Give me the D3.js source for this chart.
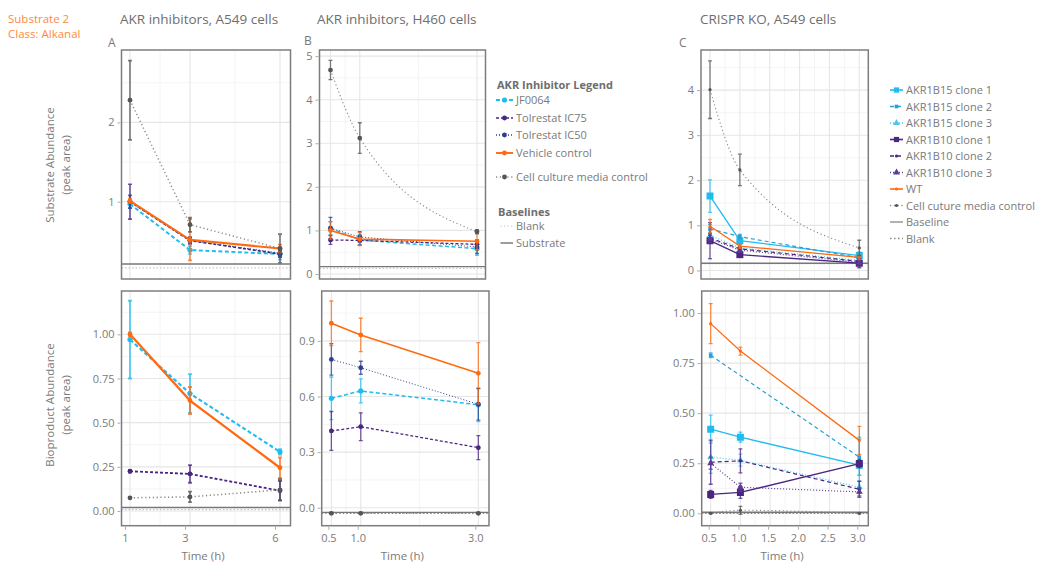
<!DOCTYPE html>
<html>
<head>
<meta charset="utf-8">
<title>Substrate 2 - Alkanal</title>
<script src="https://cdn.jsdelivr.net/npm/d3@7"></script>
<style>
  body { margin: 0; background: #fff; }
  svg text { font-family: "Open Sans", "Lato", sans-serif; }
</style>
</head>
<body>
<svg id="chart" width="1046" height="565"></svg>
<script>

// ---- data -------------------------------------------------------------
var timesA = [1, 3, 6],
    timesBC = [0.5, 1, 3];

var inhibitors = ["JF0064", "Tolrestat IC75", "Tolrestat IC50", "Vehicle control", "Cell culture media control"];
var clones = ["AKR1B15 clone 1", "AKR1B15 clone 2", "AKR1B15 clone 3", "AKR1B10 clone 1",
              "AKR1B10 clone 2", "AKR1B10 clone 3", "WT", "Cell cuture media control"];

// A: A549, inhibitors (rows follow `inhibitors`)
var aSubMean = [[0.97, 0.39, 0.34], [1.00, 0.51, 0.34], [1.00, 0.51, 0.35], [1.01, 0.52, 0.41], [2.28, 0.71, 0.41]];
var aSubSd   = [[0.05, 0.05, 0.07], [0.22, 0.04, 0.04], [0.08, 0.04, 0.04], [0.03, 0.26, 0.05], [0.50, 0.09, 0.18]];
var aProdMean = [[0.97, 0.665, 0.335], [0.225, 0.21, 0.115], [null, null, null], [1.00, 0.625, 0.245], [0.075, 0.08, 0.12]];
var aProdSd   = [[0.22, 0.11, 0.015], [0.008, 0.05, 0.055], [0, 0, 0], [0.01, 0.077, 0.058], [0.005, 0.03, 0.06]];

// B: H460, inhibitors
var bSubMean = [[1.05, 0.78, 0.58], [0.78, 0.77, 0.68], [1.05, 0.85, 0.62], [1.00, 0.80, 0.75], [4.68, 3.12, 0.97]];
var bSubSd   = [[0.15, 0.12, 0.15], [0.10, 0.10, 0.10], [0.25, 0.12, 0.15], [0.20, 0.15, 0.20], [0.22, 0.35, 0.05]];
var bProdMean = [[0.59, 0.63, 0.555], [0.414, 0.437, 0.324], [0.80, 0.755, 0.558], [0.995, 0.932, 0.725], [-0.03, -0.03, -0.03]];
var bProdSd   = [[0.115, 0.065, 0.09], [0.105, 0.075, 0.065], [0.085, 0.035, 0.085], [0.12, 0.09, 0.165], [0.005, 0.005, 0.005]];

// C: CRISPR KO, A549 (rows follow `clones`)
var cSubMean = [[1.65, 0.66, 0.33], [0.92, 0.75, 0.28], [0.78, 0.50, 0.22], [0.66, 0.35, 0.16],
                [0.72, 0.48, 0.20], [0.70, 0.45, 0.18], [0.98, 0.54, 0.29], [4.01, 2.23, 0.50]];
var cSubSd   = [[0.36, 0.08, 0.08], [0.10, 0.05, 0.05], [0.10, 0.05, 0.05], [0.40, 0.05, 0.10],
                [0.10, 0.05, 0.05], [0.08, 0.05, 0.05], [0.15, 0.05, 0.05], [0.64, 0.35, 0.17]];
var cProdMean = [[0.42, 0.38, 0.24], [0.789, null, 0.28], [0.28, 0.265, 0.13], [0.094, 0.104, 0.248],
                 [0.255, 0.262, 0.12], [0.25, 0.13, 0.107], [0.947, 0.81, 0.364], [0.0, 0.015, 0.0]];
var cProdSd   = [[0.07, 0.025, 0.14], [0.012, 0, 0.09], [0.08, 0.03, 0.03], [0.02, 0.03, 0.02],
                 [0.11, 0.06, 0.04], [0.03, 0.02, 0.02], [0.10, 0.02, 0.07], [0.003, 0.02, 0.003]];

// baselines per panel A, B, C
var substrateBaseline = [0.215, 0.17, 0.16],
    substrateBlank    = [0.165, 0.13, 0.15],
    productBaseline   = [0.02, -0.025, 0.005],
    productBlank      = [0.008, -0.03, 0.0];

// axis ticks
var ticksSubA = [1, 2], ticksSubB = [0, 1, 2, 3, 4, 5], ticksSubC = [0, 1, 2, 3, 4];
var ticksProdA = [0, 0.25, 0.5, 0.75, 1], ticksProdB = [0, 0.3, 0.6, 0.9], ticksProdC = [0, 0.25, 0.5, 0.75, 1];
var ticksTimeA = [1, 3, 6], ticksTimeB = [0.5, 1, 3], ticksTimeC = [0.5, 1, 1.5, 2, 2.5, 3];

// ---- styles ----------------------------------------------------------
var cyan = "#1fbcef", cyan2 = "#2a9fd3", cyan3 = "#4ac6f1",
    purple = "#4a2680", purple3 = "#5d3b95", navy = "#2e3f8f",
    orange = "#ff6a10", grayPt = "#555", grayLn = "#888", txt = "#7a7a7a";
var font = "'Open Sans', Lato, sans-serif";

var inhStyle = [
  { color: cyan,   dash: "4,2.5", w: 1.5, shape: "circle", r: 2.6 },
  { color: purple, dash: "3,2",   w: 1.3, shape: "circle", r: 2.4 },
  { color: navy,   dash: "1,2",   w: 1.0, shape: "circle", r: 2.4 },
  { color: orange, dash: null,    w: 1.6, shape: "circle", r: 2.4 },
  { color: grayPt, line: grayLn, dash: "1.2,2.6", w: 1.1, shape: "circle", r: 2.4 }
];
var cloneStyle = [
  { color: cyan,    dash: null,    w: 1.3, shape: "square", r: 3.5 },
  { color: cyan2,   dash: "4,3",   w: 1.2, shape: "square", r: 1.8 },
  { color: cyan3,   dash: "1,2",   w: 1.2, shape: "triangle", r: 2.6 },
  { color: purple,  dash: null,    w: 1.3, shape: "square", r: 3.5 },
  { color: purple,  dash: "4,3",   w: 1.2, shape: "circle", r: 1.6 },
  { color: purple3, dash: "1,2",   w: 1.2, shape: "triangle", r: 2.6 },
  { color: orange,  dash: null,    w: 1.3, shape: "circle", r: 1.6 },
  { color: grayPt, line: grayLn, dash: "1.2,2.6", w: 1.1, shape: "circle", r: 1.6 }
];

var svg = d3.select("#chart");

// ---- header texts ----------------------------------------------------
svg.append("text").attr("x", 8).attr("y", 23).text("Substrate 2")
  .attr("fill", "#ff8a3d").attr("font-size", 11.5);
svg.append("text").attr("x", 8).attr("y", 38).text("Class: Alkanal")
  .attr("fill", "#ff8a3d").attr("font-size", 11.5);

[["AKR inhibitors, A549 cells", 120], ["AKR inhibitors, H460 cells", 317], ["CRISPR KO, A549 cells", 700]]
  .forEach(function (t) {
    svg.append("text").attr("x", t[1]).attr("y", 24).text(t[0])
      .attr("fill", "#6e6e6e").attr("font-size", 13.5);
  });
[["A", 108, 47], ["B", 304, 45], ["C", 679, 47]].forEach(function (t) {
  svg.append("text").attr("x", t[1]).attr("y", t[2]).text(t[0])
    .attr("fill", "#777").attr("font-size", 12);
});

// y titles
function yTitle(lines, cy) {
  lines.forEach(function (l, i) {
    svg.append("text")
      .attr("transform", "translate(" + (54 + i * 16) + "," + cy + ") rotate(-90)")
      .attr("text-anchor", "middle").attr("font-size", 11.5).attr("fill", txt).text(l);
  });
}
yTitle(["Substrate Abundance", "(peak area)"], 165);
yTitle(["Bioproduct Abundance", "(peak area)"], 405);

// ---- panels ------------------------------------------------------------
function midpoints(t, lo, hi) {
  var out = [], step = t[1] - t[0];
  var all = [t[0] - step].concat(t, [t[t.length - 1] + step]);
  for (var i = 0; i < all.length - 1; i++) {
    var m = (all[i] + all[i + 1]) / 2;
    if (m > lo && m < hi) out.push(m);
  }
  return out;
}

function symbol(shape, r) {
  if (shape === "square") return d3.symbol().type(d3.symbolSquare).size(4 * r * r)();
  if (shape === "triangle") return d3.symbol().type(d3.symbolTriangle).size(3 * r * r)();
  return d3.symbol().type(d3.symbolCircle).size(Math.PI * r * r)();
}

var clipId = 0;
function drawPanel(p) {
  var x = d3.scaleLinear().domain(p.xd).range([p.x0, p.x1]);
  var y = d3.scaleLinear().domain(p.yd).range([p.y1, p.y0]);
  var g = svg.append("g");
  var id = "clip" + (clipId++);
  g.append("clipPath").attr("id", id).append("rect")
    .attr("x", p.x0).attr("y", p.y0).attr("width", p.x1 - p.x0).attr("height", p.y1 - p.y0);

  // grid
  var grid = g.append("g");
  grid.selectAll(".mx").data(midpoints(p.xt, p.xd[0], p.xd[1])).join("line")
    .attr("x1", d => x(d)).attr("x2", d => x(d)).attr("y1", p.y0).attr("y2", p.y1)
    .attr("stroke", "#f1f1f1").attr("stroke-width", 0.8);
  grid.selectAll(".my").data(midpoints(p.yt, p.yd[0], p.yd[1])).join("line")
    .attr("y1", d => y(d)).attr("y2", d => y(d)).attr("x1", p.x0).attr("x2", p.x1)
    .attr("stroke", "#f1f1f1").attr("stroke-width", 0.8);
  grid.selectAll(".Mx").data(p.xt).join("line")
    .attr("x1", d => x(d)).attr("x2", d => x(d)).attr("y1", p.y0).attr("y2", p.y1)
    .attr("stroke", "#e6e6e6").attr("stroke-width", 1.1);
  grid.selectAll(".My").data(p.yt).join("line")
    .attr("y1", d => y(d)).attr("y2", d => y(d)).attr("x1", p.x0).attr("x2", p.x1)
    .attr("stroke", "#e6e6e6").attr("stroke-width", 1.1);

  var body = g.append("g").attr("clip-path", "url(#" + id + ")");

  // baselines
  body.append("line").attr("x1", p.x0).attr("x2", p.x1)
    .attr("y1", y(p.blank)).attr("y2", y(p.blank))
    .attr("stroke", p.blankColor || "#bbb").attr("stroke-width", 1).attr("stroke-dasharray", "1.5,2");
  body.append("line").attr("x1", p.x0).attr("x2", p.x1)
    .attr("y1", y(p.base)).attr("y2", y(p.base))
    .attr("stroke", "#777").attr("stroke-width", 1.4);

  // series
  p.means.forEach(function (row, si) {
    var st = p.styles[si];
    var pts = row.map(function (v, i) { return { t: p.times[i], v: v, sd: p.sds[si][i] }; })
      .filter(function (d) { return d.v !== null; });
    if (!pts.length) return;
    var line = d3.line().x(d => x(d.t)).y(d => y(d.v))
      .curve(st.line && p.smoothGray ? d3.curveMonotoneX : d3.curveLinear);
    body.append("path").datum(pts).attr("d", line)
      .attr("fill", "none").attr("stroke", st.line || st.color)
      .attr("stroke-width", st.w * (p.wScale || 1))
      .attr("stroke-dasharray", st.dash);
    var eb = body.append("g").attr("stroke", st.color).attr("stroke-opacity", 0.75)
      .attr("stroke-width", 1.3 * (p.wScale || 1));
    pts.filter(d => d.sd > 0).forEach(function (d) {
      var cx = x(d.t), yl = y(d.v - d.sd), yh = y(d.v + d.sd);
      eb.append("line").attr("x1", cx).attr("x2", cx).attr("y1", yl).attr("y2", yh);
      eb.append("line").attr("x1", cx - 2).attr("x2", cx + 2).attr("y1", yl).attr("y2", yl);
      eb.append("line").attr("x1", cx - 2).attr("x2", cx + 2).attr("y1", yh).attr("y2", yh);
    });
    body.selectAll(null).data(pts).join("path")
      .attr("transform", d => "translate(" + x(d.t) + "," + y(d.v) + ")")
      .attr("d", symbol(st.shape, st.r * (p.rScale || 1)))
      .attr("fill", st.color);
  });

  // frame
  g.append("rect").attr("x", p.x0).attr("y", p.y0)
    .attr("width", p.x1 - p.x0).attr("height", p.y1 - p.y0)
    .attr("fill", "none").attr("stroke", "#7d7d7d").attr("stroke-width", 1.5);

  // axes
  var ya = g.append("g").attr("transform", "translate(" + (p.x0 - 1) + ",0)")
    .call(d3.axisLeft(y).tickValues(p.yt).tickFormat(d3.format(p.yf)).tickSize(3).tickPadding(3));
  ya.select(".domain").remove();
  ya.selectAll("line").attr("stroke", "#aaa");
  ya.selectAll("text").attr("fill", txt).attr("font-size", 11).attr("font-family", font);
  if (p.xlabels) {
    var xa = g.append("g").attr("transform", "translate(" + p.xShift + "," + (p.y1 + 1) + ")")
      .call(d3.axisBottom(x).tickValues(p.xt).tickFormat(d3.format(p.xf)).tickSize(3).tickPadding(5));
    xa.select(".domain").remove();
    xa.selectAll("line").attr("stroke", "#aaa");
    xa.selectAll("text").attr("fill", txt).attr("font-size", 11).attr("font-family", font);
    svg.append("text").attr("x", (p.x0 + p.x1) / 2 - 3).attr("y", 560)
      .attr("text-anchor", "middle").attr("font-size", 11.5).attr("fill", txt).text("Time (h)");
  }
}

var top0 = 50, top1 = 279, bot0 = 291, bot1 = 525.7;

drawPanel({ x0: 121.5, x1: 290.5, y0: top0, y1: top1, xd: [0.717, 6.35], yd: [0.025, 2.913],
  times: timesA, means: aSubMean, sds: aSubSd, styles: inhStyle, wScale: 1.3,
  xt: ticksTimeA, yt: ticksSubA, yf: "d", base: substrateBaseline[0], blank: substrateBlank[0] });
drawPanel({ x0: 121.5, x1: 290.5, y0: bot0, y1: bot1, xd: [0.717, 6.35], yd: [-0.083, 1.245],
  times: timesA, means: aProdMean, sds: aProdSd, styles: inhStyle, wScale: 1.4,
  xt: ticksTimeA, yt: ticksProdA, yf: ".2f", xf: "d", xlabels: true, xShift: -5,
  base: productBaseline[0], blank: productBlank[0] });

drawPanel({ x0: 319.5, x1: 485.5, y0: top0, y1: top1, xd: [0.3125, 3.145], yd: [-0.115, 5.14],
  times: timesBC, means: bSubMean, sds: bSubSd, styles: inhStyle, smoothGray: true,
  xt: ticksTimeB, yt: ticksSubB, yf: "d", base: substrateBaseline[1], blank: substrateBlank[1] });
drawPanel({ x0: 321.7, x1: 489, y0: bot0, y1: bot1, xd: [0.3355, 3.1813], yd: [-0.097, 1.169],
  times: timesBC, means: bProdMean, sds: bProdSd, styles: inhStyle, smoothGray: true,
  xt: ticksTimeB, yt: ticksProdB, yf: ".1f", xf: ".1f", xlabels: true, xShift: -3,
  base: productBaseline[1], blank: productBlank[1], blankColor: "#666" });

drawPanel({ x0: 701, x1: 868.3, y0: top0, y1: top1, xd: [0.349, 3.151], yd: [-0.19, 4.89],
  times: timesBC, means: cSubMean, sds: cSubSd, styles: cloneStyle, smoothGray: true,
  xt: ticksTimeC, yt: ticksSubC, yf: "d", base: substrateBaseline[2], blank: substrateBlank[2], blankColor: "#999" });
drawPanel({ x0: 701.7, x1: 868.3, y0: bot0, y1: bot1, xd: [0.349, 3.151], yd: [-0.062, 1.11],
  times: timesBC, means: cProdMean, sds: cProdSd, styles: cloneStyle, smoothGray: true,
  xt: ticksTimeC, yt: ticksProdC, yf: ".2f", xf: ".1f", xlabels: true, xShift: -2,
  base: productBaseline[2], blank: productBlank[2], blankColor: "#666" });

// ---- legends -----------------------------------------------------------
function legendItem(x, y, label, st, len) {
  var g = svg.append("g");
  g.append("line").attr("x1", x).attr("x2", x + len).attr("y1", y).attr("y2", y)
    .attr("stroke", st.line || st.color).attr("stroke-width", st.w + 0.3)
    .attr("stroke-dasharray", st.dash);
  if (st.shape) g.append("path").attr("transform", "translate(" + (x + len / 2) + "," + y + ")")
    .attr("d", symbol(st.shape, Math.min(st.r, 2.6))).attr("fill", st.color);
  g.append("text").attr("x", x + len + 3).attr("y", y + 4).attr("font-size", 11)
    .attr("fill", txt).text(label);
}

svg.append("text").attr("x", 497).attr("y", 89).attr("font-size", 11)
  .attr("font-weight", "bold").attr("fill", "#6e6e6e").text("AKR Inhibitor Legend");
var inhY = [100, 118, 135, 153, 177];
inhibitors.forEach(function (name, i) {
  legendItem(496, inhY[i], name, inhStyle[i], 17);
});
svg.append("text").attr("x", 498).attr("y", 216).attr("font-size", 11)
  .attr("font-weight", "bold").attr("fill", "#6e6e6e").text("Baselines");
legendItem(500.5, 226, "Blank", { color: "#ccc", dash: "1.5,2", w: 0.8 }, 12.5);
legendItem(500.5, 243, "Substrate", { color: "#666", dash: null, w: 1 }, 12.5);

var cloneLegend = clones.concat(["Baseline", "Blank"]);
var cloneLegendStyle = cloneStyle.concat([{ color: "#888", dash: null, w: 1 }, { color: "#888", dash: "1.5,2.5", w: 1 }]);
cloneLegend.forEach(function (name, i) {
  legendItem(890, 90 + i * 16.5, name, cloneLegendStyle[i], 13);
});
</script>
</body>
</html>
